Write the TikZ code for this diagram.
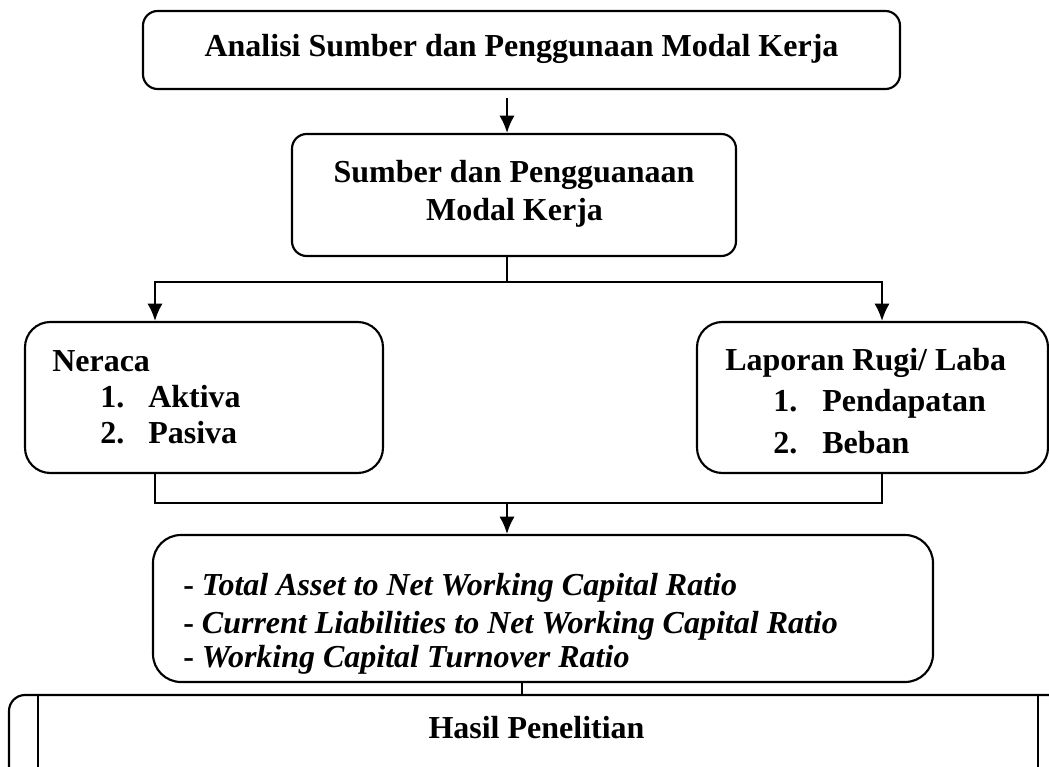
\documentclass[tikz,border=0pt]{standalone}
\usepackage{fontspec}
\setmainfont{Liberation Serif}
\usetikzlibrary{arrows.meta}
\begin{document}
\begin{tikzpicture}[x=0.75pt,y=-0.75pt,
  every node/.style={font=\fontsize{24}{28}\selectfont\bfseries},
  box/.style={draw, line width=1.6pt, rounded corners=#1, inner sep=0pt},
  txt/.style={inner sep=0pt},
  conn/.style={line width=1.6pt},
  arr/.style={line width=1.6pt, -{Latex[length=13pt,width=11.5pt]}}]
\path[use as bounding box, clip] (0,0) rectangle (1049,767);
% boxes
\node[box=11pt, minimum width=567.75pt, minimum height=58.5pt] (top) at (521.5,50) {};
\node[box=11pt, minimum width=333pt, minimum height=91.5pt] (box2) at (514,195) {};
\node[box=19pt, minimum width=268.5pt, minimum height=113.25pt] (ner) at (204,397.5) {};
\node[box=19pt, minimum width=263.25pt, minimum height=113.25pt] (lap) at (872.5,397.5) {};
\node[box=21pt, minimum width=585pt, minimum height=110.25pt] (rat) at (543,608.5) {};
\node[box=12pt, minimum width=799.5pt, minimum height=90pt] (has) at (542,755) {};
\coordinate (xiL) at (38,0);
\coordinate (xiR) at (1038,0);
\draw[conn] (has.north -| xiL) -- (has.south -| xiL);
\draw[conn] (has.north -| xiR) -- (has.south -| xiR);
% texts
\node[txt, anchor=base] (t1) at (521.5,57) {Analisi Sumber dan Penggunaan Modal Kerja};
\node[txt, anchor=base] (t2) at (514,182) {Sumber dan Pengguanaan};
\node[txt, anchor=base] (t3) at (514.5,220) {Modal Kerja};
\node[txt, anchor=base west] (t4) at (52,371) {Neraca};
\node[txt, anchor=base west] (t5) at (100,407) {1.};
\node[txt, anchor=base west] (t6) at (148,407) {Aktiva};
\node[txt, anchor=base west] (t7) at (100,443) {2.};
\node[txt, anchor=base west] (t8) at (148,443) {Pasiva};
\node[txt, anchor=base west] (t9) at (725,370) {Laporan Rugi/ Laba};
\node[txt, anchor=base west] (t10) at (773,411) {1.};
\node[txt, anchor=base west] (t11) at (822,411) {Pendapatan};
\node[txt, anchor=base west] (t12) at (773,453) {2.};
\node[txt, anchor=base west] (t13) at (822,453) {Beban};
\node[txt, anchor=base west] (t14) at (183,595) {- \textit{Total Asset to Net Working Capital Ratio}};
\node[txt, anchor=base west] (t15) at (183,633) {- \textit{Current Liabilities to Net Working Capital Ratio}};
\node[txt, anchor=base west] (t16) at (183,667) {- \textit{Working Capital Turnover Ratio}};
\node[txt, anchor=base] (t17) at (536.5,738) {Hasil Penelitian};
% connectors
\coordinate (xM) at (507,0);
\coordinate (xB) at (522,0);
\coordinate (xL) at (155,0);
\coordinate (xR) at (882,0);
\coordinate (yA) at (0,98);
\coordinate (yS) at (0,282);
\coordinate (yJ) at (0,503);
\draw[arr] (xM |- yA) -- (box2.north -| xM);
\draw[conn] (box2.south -| xM) -- (xM |- yS);
\draw[arr] (xM |- yS) -| (ner.north -| xL);
\draw[arr] (xM |- yS) -| (lap.north -| xR);
\draw[conn] (ner.south -| xL) |- (xR |- yJ) -- (lap.south -| xR);
\draw[arr] (xM |- yJ) -- (rat.north -| xM);
\draw[conn] (rat.south -| xB) -- (has.north -| xB);
\end{tikzpicture}
\end{document}
